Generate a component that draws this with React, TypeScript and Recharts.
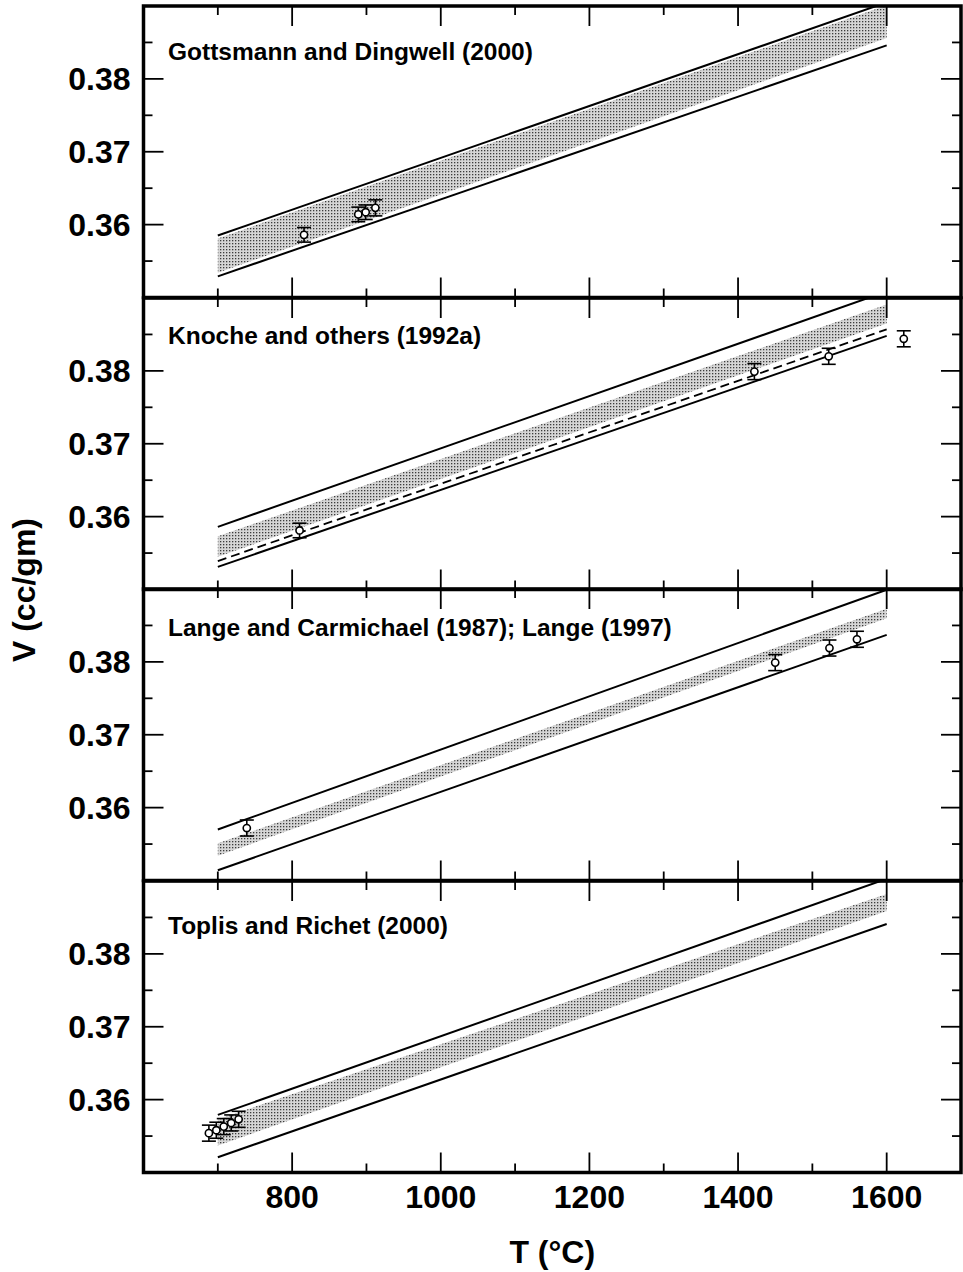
import {
  ComposedChart,
  Line,
  Area,
  Scatter,
  ErrorBar,
  XAxis,
  YAxis,
  Label,
  ReferenceArea,
} from "recharts";

const FONT = '"Liberation Sans", Arial, Helvetica, sans-serif';

// the model curves are straight lines, given at both ends of the T range
const modelT = [700, 1600];

const xTicks = [700, 800, 900, 1000, 1100, 1200, 1300, 1400, 1500, 1600];
const yTicks = [0.355, 0.36, 0.365, 0.37, 0.375, 0.38, 0.385];

// Gottsmann and Dingwell (2000)
const gdUpper = [0.3585, 0.3905];
const gdLower = [0.3529, 0.3846];
const gdBandLow = [0.3534, 0.3856];
const gdBandHigh = [0.3581, 0.3901];
const gdT = [816, 889, 899, 912];
const gdV = [0.3586, 0.3614, 0.3617, 0.3623];
const gdErr = [0.001, 0.001, 0.001, 0.0011];

// Knoche and others (1992a)
const knUpper = [0.3586, 0.3909];
const knLower = [0.3531, 0.3848];
const knDashed = [0.3539, 0.3857];
const knBandLow = [0.3545, 0.3865];
const knBandHigh = [0.3573, 0.3891];
const knT = [810, 1422, 1522, 1623];
const knV = [0.3581, 0.3799, 0.382, 0.3844];
const knErr = [0.001, 0.0011, 0.0011, 0.0011];

// Lange and Carmichael (1987); Lange (1997)
const lcUpper = [0.357, 0.3899];
const lcLower = [0.3514, 0.3837];
const lcBandLow = [0.3534, 0.386];
const lcBandHigh = [0.3551, 0.3873];
const lcT = [739, 1450, 1523, 1560];
const lcV = [0.3572, 0.3799, 0.3819, 0.3831];
const lcErr = [0.0011, 0.0011, 0.0011, 0.0011];

// Toplis and Richet (2000)
const trUpper = [0.3579, 0.3903];
const trLower = [0.3521, 0.3841];
const trBandLow = [0.3537, 0.3859];
const trBandHigh = [0.3573, 0.3882];
const trT = [688, 698, 708, 718, 728];
const trV = [0.3554, 0.3558, 0.3563, 0.3568, 0.3573];
const trErr = [0.0011, 0.0011, 0.0011, 0.0011, 0.0011];

const toLine = (vals: number[]) => modelT.map((t, i) => ({ t, v: vals[i] }));
const toBand = (lo: number[], hi: number[]) =>
  modelT.map((t, i) => ({ t, band: [lo[i], hi[i]] }));
const toPoints = (ts: number[], vs: number[], errs: number[]) =>
  ts.map((t, i) => ({ t, v: vs[i], err: errs[i] }));

const panels = [
  {
    title: "Gottsmann and Dingwell (2000)",
    titleBaseline: 54,
    solid: [toLine(gdUpper), toLine(gdLower)],
    dashed: [] as { t: number; v: number }[][],
    band: toBand(gdBandLow, gdBandHigh),
    points: toPoints(gdT, gdV, gdErr),
  },
  {
    title: "Knoche and others (1992a)",
    titleBaseline: 47,
    solid: [toLine(knUpper), toLine(knLower)],
    dashed: [toLine(knDashed)],
    band: toBand(knBandLow, knBandHigh),
    points: toPoints(knT, knV, knErr),
  },
  {
    title: "Lange and Carmichael (1987); Lange (1997)",
    titleBaseline: 47.5,
    solid: [toLine(lcUpper), toLine(lcLower)],
    dashed: [],
    band: toBand(lcBandLow, lcBandHigh),
    points: toPoints(lcT, lcV, lcErr),
  },
  {
    title: "Toplis and Richet (2000)",
    titleBaseline: 54,
    solid: [toLine(trUpper), toLine(trLower)],
    dashed: [],
    band: toBand(trBandLow, trBandHigh),
    points: toPoints(trT, trV, trErr),
  },
];

const PANEL_TOP = 6;
const PANEL_H = 291.5;
const PAD = 4;

// inward ticks; majors are longer and optionally labelled
function AxisTick(props: any) {
  const { x, y, payload, side, labelled } = props;
  const v = payload.value;
  const horizontal = side === "top" || side === "bottom";
  const major = horizontal
    ? v % 200 === 0
    : Math.abs(v * 100 - Math.round(v * 100)) < 1e-6;
  const len = major ? 20 : 9;
  const tick = { stroke: "#000", strokeWidth: 1.8 };
  const text = { fill: "#000", fontFamily: FONT, fontWeight: 700, fontSize: 32 };
  if (side === "bottom") {
    return (
      <g>
        <line x1={x} y1={y} x2={x} y2={y - len} {...tick} />
        {labelled && major && (
          <text x={x} y={y + 35} textAnchor="middle" {...text}>
            {v}
          </text>
        )}
      </g>
    );
  }
  if (side === "top") {
    return <line x1={x} y1={y} x2={x} y2={y + len} {...tick} />;
  }
  if (side === "left") {
    return (
      <g>
        <line x1={x} y1={y} x2={x + len} y2={y} {...tick} />
        {major && (
          <text x={x - 13} y={y} dy="0.355em" textAnchor="end" {...text}>
            {v.toFixed(2)}
          </text>
        )}
      </g>
    );
  }
  return <line x1={x} y1={y} x2={x - len} y2={y} {...tick} />;
}

const OpenCircle = (props: any) => (
  <circle cx={props.cx} cy={props.cy} r={3.6} fill="#fff" stroke="#000" strokeWidth={1.6} />
);

function Panel({ p, index }: { p: (typeof panels)[number]; index: number }) {
  const last = index === panels.length - 1;
  const bottomAxisH = last ? 100 : 1;
  const height = PAD + PANEL_H + (last ? bottomAxisH : PAD);
  const top = PANEL_TOP + index * PANEL_H;
  const patternId = `dots-${index}`;

  return (
    <>
      <div style={{ position: "absolute", left: 0, top: top - PAD }}>
        <ComposedChart
          width={963}
          height={height}
          margin={{ top: PAD - 1, right: 0, bottom: last ? 0 : PAD - 1, left: 0 }}
        >
          <defs>
            <pattern id={patternId} width="3" height="3" patternUnits="userSpaceOnUse">
              <rect width="3" height="3" fill="#d6d6d6" />
              <rect x="1" y="1" width="1.3" height="1.3" fill="#3c3c3c" />
            </pattern>
          </defs>
          <XAxis
            dataKey="t"
            type="number"
            domain={[600, 1700]}
            allowDataOverflow
            ticks={xTicks}
            interval={0}
            tickSize={0}
            tickMargin={0}
            tickLine={false}
            axisLine={false}
            height={bottomAxisH}
            tick={(tp: any) => <AxisTick {...tp} side="bottom" labelled={last} />}
          >
            {last && (
              <Label
                value="T (°C)"
                position="insideBottom"
                offset={10}
                fill="#000"
                fontSize={32}
                fontWeight={700}
                fontFamily={FONT}
              />
            )}
          </XAxis>
          <XAxis
            xAxisId="top"
            orientation="top"
            dataKey="t"
            type="number"
            domain={[600, 1700]}
            allowDataOverflow
            ticks={xTicks}
            interval={0}
            tickSize={0}
            tickMargin={0}
            tickLine={false}
            axisLine={false}
            height={1}
            tick={(tp: any) => <AxisTick {...tp} side="top" />}
          />
          <YAxis
            type="number"
            domain={[0.35, 0.39]}
            allowDataOverflow
            ticks={yTicks}
            interval={0}
            tickSize={0}
            tickMargin={0}
            tickLine={false}
            axisLine={false}
            width={143.5}
            tick={(tp: any) => <AxisTick {...tp} side="left" />}
          />
          <YAxis
            yAxisId="right"
            orientation="right"
            type="number"
            domain={[0.35, 0.39]}
            allowDataOverflow
            ticks={yTicks}
            interval={0}
            tickSize={0}
            tickMargin={0}
            tickLine={false}
            axisLine={false}
            width={2}
            tick={(tp: any) => <AxisTick {...tp} side="right" />}
          />
          <Area
            data={p.band}
            dataKey="band"
            type="linear"
            stroke="none"
            fill={`url(#${patternId})`}
            fillOpacity={1}
            isAnimationActive={false}
          />
          {p.dashed.map((d, i) => (
            <Line
              key={`dash-${i}`}
              data={d}
              dataKey="v"
              type="linear"
              stroke="#000"
              strokeWidth={1.8}
              strokeDasharray="9 5"
              dot={false}
              isAnimationActive={false}
            />
          ))}
          {p.solid.map((d, i) => (
            <Line
              key={`line-${i}`}
              data={d}
              dataKey="v"
              type="linear"
              stroke="#000"
              strokeWidth={2}
              dot={false}
              isAnimationActive={false}
            />
          ))}
          <Scatter data={p.points} dataKey="v" shape={<OpenCircle />} isAnimationActive={false}>
            <ErrorBar dataKey="err" direction="y" width={7} stroke="#000" strokeWidth={1.6} />
          </Scatter>
          {/* panel frame */}
          <ReferenceArea
            x1={600}
            x2={1700}
            y1={0.35}
            y2={0.39}
            ifOverflow="visible"
            fill="none"
            stroke="#000"
            strokeWidth={3.5}
          />
        </ComposedChart>
      </div>
      <div
        style={{
          position: "absolute",
          left: 168,
          top: top + p.titleBaseline - 20.5,
          fontFamily: FONT,
          fontWeight: 700,
          fontSize: 24.5,
          lineHeight: "24.5px",
          whiteSpace: "nowrap",
          color: "#000",
        }}
      >
        {p.title}
      </div>
    </>
  );
}

export default function App() {
  return (
    <div
      style={{
        position: "absolute",
        left: 0,
        top: 0,
        width: 963,
        height: 1272,
        background: "#fff",
        overflow: "hidden",
      }}
    >
      {panels.map((p, i) => (
        <Panel key={p.title} p={p} index={i} />
      ))}
      <div
        style={{
          position: "absolute",
          left: 24,
          top: 590,
          transform: "translate(-50%, -50%) rotate(-90deg)",
          fontFamily: FONT,
          fontWeight: 700,
          fontSize: 32,
          whiteSpace: "nowrap",
          color: "#000",
        }}
      >
        V (cc/gm)
      </div>
    </div>
  );
}
